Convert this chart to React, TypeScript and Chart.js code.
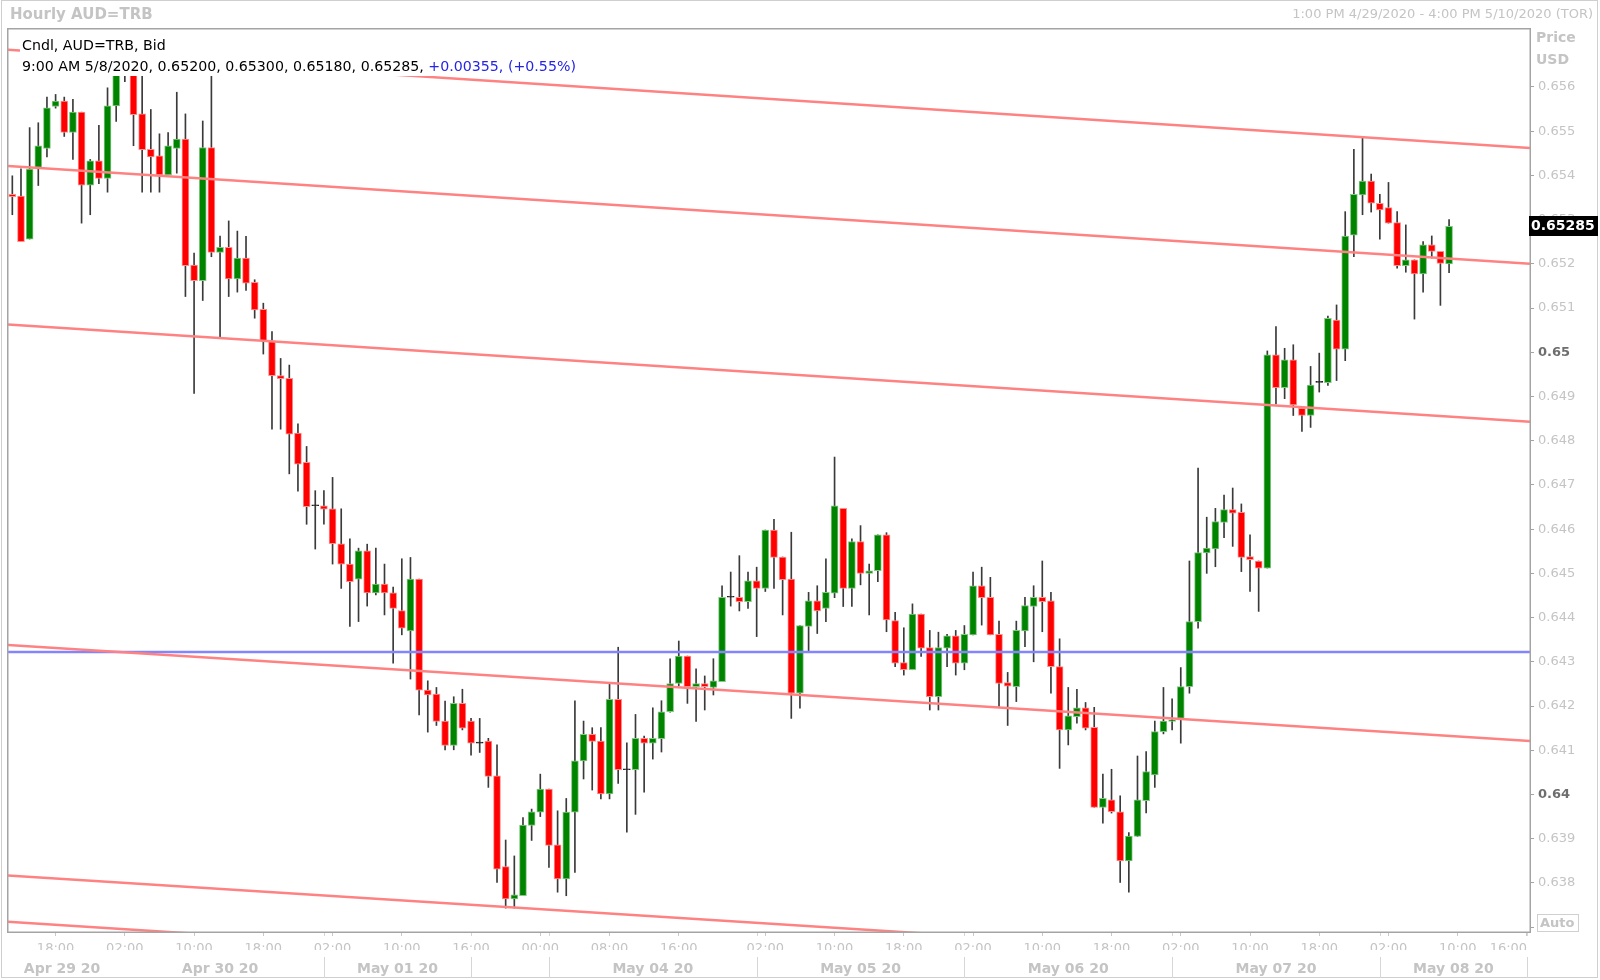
import React, { useEffect, useRef } from "react";
import { Chart, registerables } from "chart.js";

Chart.register(...registerables);

const FONT = "'DejaVu Sans', Verdana, sans-serif";

// ---- hourly candles (index 0 = 1:00 PM Apr 29) ----
const opens = [
  0.65357, 0.65353, 0.65256, 0.65418, 0.65461, 0.65556, 0.65568, 0.65497, 0.65543, 0.65378,
  0.65433, 0.65393, 0.65557, 0.6563, 0.65645, 0.65539, 0.65459, 0.65444, 0.65401, 0.65461,
  0.65482, 0.65197, 0.65162, 0.65463, 0.65226, 0.65237, 0.65166, 0.65213, 0.65158, 0.65097,
  0.65026, 0.64947, 0.64941, 0.64817, 0.64751, 0.64653, 0.64653, 0.64646, 0.64567, 0.64521,
  0.64487, 0.64551, 0.64456, 0.64476, 0.64456, 0.64416, 0.6437, 0.64487, 0.64236, 0.64227,
  0.64166, 0.64111, 0.64206, 0.64166, 0.64116, 0.64121, 0.64042, 0.63837, 0.63764, 0.63771,
  0.6393, 0.6396, 0.64012, 0.63886, 0.63809, 0.6396, 0.64076, 0.64136, 0.64121, 0.64001,
  0.64215, 0.64056, 0.64056, 0.64127, 0.64116, 0.64126, 0.64187, 0.64251, 0.64313, 0.64244,
  0.64251, 0.64242, 0.64255, 0.64446, 0.64446, 0.64436, 0.64483, 0.64466, 0.64598, 0.64537,
  0.64487, 0.64229, 0.6438, 0.64438, 0.64421, 0.64455, 0.64647, 0.64466, 0.64572, 0.645,
  0.64506, 0.64587, 0.64393, 0.64298, 0.64282, 0.64408, 0.64332, 0.64221, 0.64331, 0.64359,
  0.64297, 0.64361, 0.64472, 0.64446, 0.64362, 0.64253, 0.64244, 0.6437, 0.64425, 0.64446,
  0.64438, 0.64289, 0.64146, 0.64176, 0.64196, 0.64152, 0.63971, 0.63988, 0.63961, 0.6385,
  0.63905, 0.63986, 0.64044, 0.64142, 0.64165, 0.64172, 0.64244, 0.64391, 0.64546, 0.64555,
  0.64615, 0.64644, 0.64638, 0.64538, 0.64528, 0.64512, 0.64994, 0.6492, 0.64983, 0.64873,
  0.64857, 0.64932, 0.64931, 0.65073, 0.65007, 0.65265, 0.65356, 0.65387, 0.65337, 0.65327,
  0.65293, 0.65196, 0.65209, 0.65177, 0.65243, 0.65228, 0.652,
];
const highs = [
  0.65399, 0.65415, 0.65508, 0.65519, 0.65577, 0.65583, 0.65577, 0.65572, 0.65543, 0.65436,
  0.65513, 0.65598, 0.6565, 0.6566, 0.65665, 0.65625, 0.65549, 0.65494, 0.65497, 0.65588,
  0.65539, 0.65224, 0.65523, 0.6563, 0.65263, 0.65297, 0.65274, 0.65262, 0.65164, 0.65111,
  0.65047, 0.64986, 0.64971, 0.64838, 0.64787, 0.64687, 0.64687, 0.64717, 0.64646, 0.64578,
  0.64557, 0.64566, 0.64557, 0.64521, 0.64469, 0.64533, 0.64536, 0.64487, 0.64257, 0.64242,
  0.64211, 0.64221, 0.64238, 0.64172, 0.64172, 0.64127, 0.64112, 0.63897, 0.63861, 0.63948,
  0.63967, 0.64046, 0.64012, 0.63963, 0.63991, 0.64212, 0.64166, 0.64151, 0.64151, 0.6425,
  0.64333, 0.64117, 0.64181, 0.64132, 0.64196, 0.64212, 0.64307, 0.64347, 0.64313, 0.64284,
  0.64268, 0.64307, 0.64472, 0.64503, 0.6454, 0.64503, 0.64514, 0.64598, 0.64622, 0.64537,
  0.64593, 0.64382, 0.64457, 0.64472, 0.64533, 0.64763, 0.64647, 0.64578, 0.64608, 0.64521,
  0.64587, 0.64592, 0.64412, 0.64377, 0.64431, 0.64408, 0.64371, 0.64367, 0.64362, 0.64371,
  0.64382, 0.64503, 0.64514, 0.64491, 0.64392, 0.64276, 0.64392, 0.64446, 0.64472, 0.64528,
  0.64457, 0.64352, 0.64242, 0.64238, 0.64208, 0.64197, 0.64046, 0.64057, 0.63997, 0.63914,
  0.64087, 0.64097, 0.64166, 0.64242, 0.64216, 0.64287, 0.64528, 0.64738, 0.64627, 0.64647,
  0.64677, 0.64693, 0.64657, 0.64587, 0.64528, 0.65003, 0.65058, 0.65009, 0.65017, 0.64873,
  0.64968, 0.64998, 0.65082, 0.65107, 0.65318, 0.65459, 0.65484, 0.65403, 0.65357, 0.65384,
  0.65318, 0.65288, 0.65209, 0.6525, 0.65263, 0.65228, 0.653,
];
const lows = [
  0.65311, 0.6525, 0.65256, 0.65377, 0.65442, 0.65552, 0.65488, 0.65436, 0.65292, 0.65311,
  0.65381, 0.65362, 0.65522, 0.65612, 0.65467, 0.65362, 0.65362, 0.65362, 0.65401, 0.65405,
  0.65126, 0.64907, 0.65117, 0.65216, 0.65035, 0.65126, 0.65136, 0.6514, 0.65077, 0.64996,
  0.64826, 0.64826, 0.64725, 0.64686, 0.64611, 0.64555, 0.64611, 0.64521, 0.64466, 0.6438,
  0.64391, 0.64426, 0.64451, 0.64406, 0.64297, 0.64361, 0.64261, 0.6418, 0.64141, 0.64156,
  0.64101, 0.64101, 0.64146, 0.64089, 0.64095, 0.64016, 0.63801, 0.63743, 0.63743, 0.63771,
  0.63896, 0.6395, 0.63835, 0.63779, 0.63771, 0.63824, 0.64035, 0.6401, 0.6399, 0.6399,
  0.64025, 0.63915, 0.63955, 0.64005, 0.6408, 0.64096, 0.64186, 0.64246, 0.64206, 0.64165,
  0.64191, 0.64225, 0.64255, 0.64426, 0.64415, 0.64421, 0.64357, 0.64459, 0.64466, 0.64406,
  0.64172, 0.64195, 0.64323, 0.64364, 0.64391, 0.64445, 0.64425, 0.64425, 0.64474, 0.64406,
  0.64481, 0.64368, 0.64289, 0.6427, 0.64282, 0.64312, 0.64191, 0.64191, 0.64289, 0.6427,
  0.64282, 0.64361, 0.64383, 0.64361, 0.64199, 0.64156, 0.6421, 0.64334, 0.643, 0.64368,
  0.64229, 0.64059, 0.64112, 0.64161, 0.64146, 0.63971, 0.63935, 0.63958, 0.63801, 0.63779,
  0.63905, 0.63958, 0.64016, 0.64137, 0.64146, 0.64116, 0.64229, 0.64376, 0.645, 0.64515,
  0.64581, 0.64561, 0.64504, 0.64459, 0.64414, 0.64512, 0.64883, 0.64895, 0.64857, 0.64821,
  0.6483, 0.6491, 0.64925, 0.64936, 0.64981, 0.65216, 0.65311, 0.65317, 0.65256, 0.65292,
  0.6519, 0.65181, 0.65075, 0.65136, 0.65213, 0.65106, 0.6518,
];
const closes = [
  0.65352, 0.6525, 0.65414, 0.65467, 0.65553, 0.65568, 0.65497, 0.65543, 0.65378, 0.65433,
  0.65393, 0.65557, 0.6563, 0.65645, 0.65537, 0.65458, 0.65442, 0.65401, 0.65467, 0.65482,
  0.65196, 0.65162, 0.65463, 0.65226, 0.65237, 0.65166, 0.65213, 0.65156, 0.65096, 0.65026,
  0.64947, 0.6494, 0.64815, 0.64747, 0.64651, 0.64653, 0.64645, 0.64567, 0.64521, 0.64481,
  0.64551, 0.64456, 0.64476, 0.64456, 0.64421, 0.64376, 0.64487, 0.64236, 0.64225, 0.64165,
  0.64111, 0.64206, 0.6415, 0.64116, 0.64116, 0.64041, 0.63831, 0.63764, 0.63773, 0.63931,
  0.63961, 0.64012, 0.63885, 0.63809, 0.6396, 0.64076, 0.64136, 0.6412, 0.64001, 0.64215,
  0.64056, 0.64056, 0.64127, 0.64116, 0.64127, 0.64187, 0.64251, 0.64313, 0.64244, 0.64251,
  0.64244, 0.64257, 0.64446, 0.64446, 0.64436, 0.64483, 0.64466, 0.64598, 0.64536, 0.64486,
  0.64229, 0.64382, 0.64438, 0.64415, 0.64457, 0.64653, 0.64466, 0.64572, 0.645, 0.64506,
  0.64587, 0.64395, 0.64297, 0.64282, 0.64408, 0.64331, 0.64221, 0.64332, 0.64359, 0.64297,
  0.64362, 0.64472, 0.64445, 0.64361, 0.64251, 0.64245, 0.64371, 0.64427, 0.64446, 0.64436,
  0.64289, 0.64146, 0.64178, 0.64196, 0.6415, 0.63971, 0.63991, 0.63961, 0.6385, 0.63906,
  0.63988, 0.64052, 0.64142, 0.64166, 0.64169, 0.64244, 0.64391, 0.64547, 0.64557, 0.64617,
  0.64644, 0.64636, 0.64536, 0.64531, 0.64512, 0.64994, 0.6492, 0.64983, 0.64881, 0.64857,
  0.64926, 0.64932, 0.65077, 0.65007, 0.65263, 0.65357, 0.65387, 0.65337, 0.65322, 0.65292,
  0.65196, 0.65209, 0.65177, 0.65243, 0.65228, 0.65201, 0.65285,
];

// ---- axes ----
const xTickIndex = [5, 13, 21, 29, 37, 45, 53, 61, 69, 77, 87, 95, 103, 111, 119, 127, 135, 143, 151, 159, 167, 175];
const xTickLabels = [
  "18:00", "02:00", "10:00", "18:00", "02:00", "10:00", "16:00", "00:00", "08:00", "16:00", "02:00",
  "10:00", "18:00", "02:00", "10:00", "18:00", "02:00", "10:00", "18:00", "02:00", "10:00", "16:00",
];
const dateLabelIndex = [5.75, 24, 44.5, 74, 98, 122, 146, 166.5];
const dateLabels = ["Apr 29 20", "Apr 30 20", "May 01 20", "May 04 20", "May 05 20", "May 06 20", "May 07 20", "May 08 20"];
const daySeparatorIndex = [36, 53, 62, 86, 110, 134, 158, 175];
const yTickValues = [
  0.637, 0.638, 0.639, 0.64, 0.641, 0.642, 0.643, 0.644, 0.645, 0.646,
  0.647, 0.648, 0.649, 0.65, 0.651, 0.652, 0.653, 0.654, 0.655, 0.656,
];
const yTickLabels = [
  "", "0.638", "0.639", "0.64", "0.641", "0.642", "0.643", "0.644", "0.645", "0.646",
  "0.647", "0.648", "0.649", "0.65", "0.651", "0.652", "0.653", "0.654", "0.655", "0.656",
];
const boldTickLabels = ["0.65", "0.64"];
const X_MIN = -0.5;
const X_MAX = 175.35;
const Y_MIN = 0.63689;
const Y_MAX = 0.65731;

// ---- drawn lines (price at left edge / right edge) ----
const channelLeft = [0.65684, 0.65421, 0.65063, 0.64338, 0.63817, 0.63712];
const channelRight = [0.65462, 0.652, 0.64843, 0.64121, 0.63599, 0.63494];
const horizontalLevel = 0.64322;

// ---- texts ----
const titleText = "Hourly AUD=TRB";
const rangeText = "1:00 PM 4/29/2020 - 4:00 PM 5/10/2020 (TOR)";
const legendLine1 = "Cndl, AUD=TRB, Bid";
const legendTime = "9:00 AM 5/8/2020";
const legendChange = "+0.00355, (+0.55%)";

const GRAY = "#c4c4c4";

export default function App() {
  const ref = useRef<HTMLCanvasElement | null>(null);

  useEffect(() => {
    const canvas = ref.current;
    if (!canvas) return;
    const idx = opens.map((_, i) => i);
    const up = (i: number) => closes[i] > opens[i];
    const down = (i: number) => closes[i] < opens[i];
    const bodyFill = idx.map((i) => (up(i) ? "#008400" : down(i) ? "#ff0000" : "#202020"));
    const bodyEdge = idx.map((i) => (up(i) ? "#86c886" : down(i) ? "#ff9090" : "#202020"));
    const last = opens.length - 1;

    const channelSets = channelLeft.map((v, k) => ({
      type: "line" as const,
      data: [
        { x: X_MIN, y: v },
        { x: X_MAX, y: channelRight[k] },
      ],
      borderColor: "#ff8282",
      borderWidth: 2.5,
      pointRadius: 0,
      order: 0,
      xAxisID: "x",
      yAxisID: "y",
    }));
    const levelSet = {
      type: "line" as const,
      data: [
        { x: X_MIN, y: horizontalLevel },
        { x: X_MAX, y: horizontalLevel },
      ],
      borderColor: "#8484ff",
      borderWidth: 2.5,
      pointRadius: 0,
      order: 0,
      xAxisID: "x",
      yAxisID: "y",
    };
    const bodySet = {
      type: "bar" as const,
      data: idx.map((i) => ({ x: i, y: [opens[i], closes[i]] })),
      backgroundColor: bodyFill,
      borderColor: bodyEdge,
      borderWidth: 1,
      borderSkipped: false,
      barThickness: 7,
      minBarLength: 1,
      grouped: false,
      order: 1,
      xAxisID: "x",
      yAxisID: "y",
    };
    const wickSet = {
      type: "bar" as const,
      data: idx.map((i) => ({ x: i, y: [lows[i], highs[i]] })),
      backgroundColor: "#3a3a3a",
      borderWidth: 0,
      barThickness: 1,
      minBarLength: 1,
      grouped: false,
      order: 2,
      xAxisID: "x",
      yAxisID: "y",
    };

    const decor = {
      id: "decor",
      beforeDraw(chart: any) {
        const c = chart.ctx;
        c.save();
        c.fillStyle = "#ffffff";
        c.fillRect(0, 0, chart.width, chart.height);
        c.restore();
      },
      afterDraw(chart: any) {
        const c = chart.ctx;
        const a = chart.chartArea;
        const sx = chart.scales.x;
        const sy = chart.scales.y;
        c.save();

        // outer frame
        c.strokeStyle = "#cfcfcf";
        c.lineWidth = 1;
        c.strokeRect(1.5, 0.5, 1596, 977);

        // day separators
        c.strokeStyle = "#d6d6d6";
        daySeparatorIndex.forEach((v) => {
          const x = Math.round(sx.getPixelForValue(v)) + 0.5;
          c.beginPath();
          c.moveTo(x, a.bottom);
          c.lineTo(x, a.bottom + 4);
          c.moveTo(x, a.bottom + 25);
          c.lineTo(x, a.bottom + 46);
          c.stroke();
        });

        // plot border
        c.strokeStyle = "#a4a4a4";
        c.lineWidth = 1.5;
        c.strokeRect(a.left - 0.25, a.top - 0.25, a.right - a.left + 0.5, a.bottom - a.top + 0.5);

        // title row
        c.textBaseline = "middle";
        c.fillStyle = GRAY;
        c.font = `bold 15px ${FONT}`;
        c.textAlign = "left";
        c.fillText(titleText, 10, 15);
        c.font = `13px ${FONT}`;
        c.textAlign = "right";
        c.fillText(rangeText, 1593, 15);

        // legend
        c.textAlign = "left";
        c.font = `14.2px ${FONT}`;
        const line2 = `${legendTime}, ${opens[last].toFixed(5)}, ${highs[last].toFixed(5)}, ${lows[last].toFixed(5)}, ${closes[last].toFixed(5)}, `;
        const w2 = c.measureText(line2).width;
        const w3 = c.measureText(legendChange).width;
        c.fillStyle = "#ffffff";
        c.fillRect(20, 35, w2 + w3 + 6, 41);
        c.fillStyle = "#000000";
        c.fillText(legendLine1, 22, 46);
        c.fillText(line2, 22, 67);
        c.fillStyle = "#2424e6";
        c.fillText(legendChange, 22 + w2, 67);

        // price axis header
        c.fillStyle = GRAY;
        c.font = `bold 14px ${FONT}`;
        c.fillText("Price", 1536, 38);
        c.fillText("USD", 1536, 60);

        // last price box
        const yp = sy.getPixelForValue(closes[last]);
        c.fillStyle = "#000000";
        c.fillRect(a.right - 1, Math.round(yp) - 10, 69, 20);
        c.fillStyle = "#ffffff";
        c.font = `bold 14px ${FONT}`;
        c.fillText(closes[last].toFixed(5), a.right + 1, Math.round(yp) + 0.5);

        // Auto box
        c.fillStyle = "#ffffff";
        c.fillRect(1537, 914, 41, 17);
        c.strokeStyle = "#d0d0d0";
        c.lineWidth = 1;
        c.strokeRect(1537.5, 914.5, 41, 17);
        c.fillStyle = GRAY;
        c.font = `bold 13px ${FONT}`;
        c.fillText("Auto", 1540, 923.5);

        c.restore();
      },
    };

    const chart = new Chart(canvas, {
      type: "bar",
      data: { datasets: [...channelSets, levelSet, bodySet, wickSet] as any },
      options: {
        animation: false,
        responsive: false,
        devicePixelRatio: 1,
        events: [],
        layout: { padding: { left: 8, top: 29, right: 0, bottom: 0 } },
        plugins: { legend: { display: false }, tooltip: { enabled: false } },
        scales: {
          x: {
            type: "linear",
            position: "bottom",
            weight: 0,
            min: X_MIN,
            max: X_MAX,
            bounds: "data",
            offset: false,
            afterBuildTicks: (s: any) => {
              s.ticks = xTickIndex.map((value) => ({ value }));
            },
            afterFit: (s: any) => {
              s.height = 18;
            },
            grid: { display: true, drawOnChartArea: false, drawTicks: true, tickLength: 4, color: "#c8c8c8", offset: false },
            border: { display: false },
            ticks: {
              autoSkip: false,
              maxRotation: 0,
              minRotation: 0,
              padding: 5,
              color: GRAY,
              font: { family: FONT, size: 13 },
              callback: (_v: any, i: number) =>
                i === xTickLabels.length - 1 ? xTickLabels[i] + "\u00a0".repeat(9) : xTickLabels[i],
            },
          },
          xDate: {
            type: "linear",
            position: "bottom",
            weight: 1,
            min: X_MIN,
            max: X_MAX,
            bounds: "data",
            offset: false,
            afterBuildTicks: (s: any) => {
              s.ticks = dateLabelIndex.map((value) => ({ value }));
            },
            afterFit: (s: any) => {
              s.height = 30;
            },
            grid: { display: false },
            border: { display: false },
            ticks: {
              autoSkip: false,
              maxRotation: 0,
              minRotation: 0,
              padding: 3,
              color: GRAY,
              font: { family: FONT, size: 14, weight: "bold" },
              callback: (_v: any, i: number) => dateLabels[i],
            },
          },
          y: {
            type: "linear",
            position: "right",
            min: Y_MIN,
            max: Y_MAX,
            bounds: "data",
            afterBuildTicks: (s: any) => {
              s.ticks = yTickValues.map((value) => ({ value }));
            },
            afterFit: (s: any) => {
              s.width = 70;
            },
            grid: { display: true, drawOnChartArea: false, drawTicks: true, tickLength: 4, color: "#a4a4a4" },
            border: { display: false },
            ticks: {
              padding: 4,
              color: (ctx: any) => (boldTickLabels.includes(yTickLabels[ctx.index]) ? "#6e6e6e" : GRAY),
              font: (ctx: any) => ({
                family: FONT,
                size: 13,
                weight: boldTickLabels.includes(yTickLabels[ctx.index]) ? "bold" : "normal",
              }),
              callback: (_v: any, i: number) => yTickLabels[i],
            },
          },
        },
      } as any,
      plugins: [decor],
    });

    return () => chart.destroy();
  }, []);

  return (
    <div style={{ position: "fixed", left: 0, top: 0, width: 1600, height: 980, background: "#ffffff" }}>
      <canvas ref={ref} width={1600} height={980} style={{ display: "block", width: 1600, height: 980 }} />
    </div>
  );
}
